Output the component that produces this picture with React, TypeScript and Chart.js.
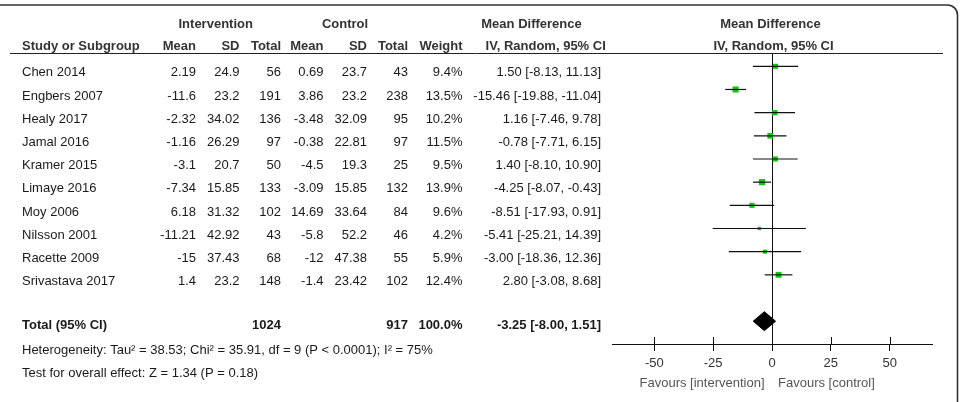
import { useEffect, useRef } from 'react';
import { Chart, registerables } from 'chart.js';

Chart.register(...registerables);

// Forest plot data: mean difference, IV random effects, 95% CI
const studies = [
  'Chen 2014', 'Engbers 2007', 'Healy 2017', 'Jamal 2016', 'Kramer 2015',
  'Limaye 2016', 'Moy 2006', 'Nilsson 2001', 'Racette 2009', 'Srivastava 2017',
];
const intMean = [2.19, -11.6, -2.32, -1.16, -3.1, -7.34, 6.18, -11.21, -15, 1.4];
const intSD = [24.9, 23.2, 34.02, 26.29, 20.7, 15.85, 31.32, 42.92, 37.43, 23.2];
const intN = [56, 191, 136, 97, 50, 133, 102, 43, 68, 148];
const ctlMean = [0.69, 3.86, -3.48, -0.38, -4.5, -3.09, 14.69, -5.8, -12, -1.4];
const ctlSD = [23.7, 23.2, 32.09, 22.81, 19.3, 15.85, 33.64, 52.2, 47.38, 23.42];
const ctlN = [43, 238, 95, 97, 25, 132, 84, 46, 55, 102];
const weights = [9.4, 13.5, 10.2, 11.5, 9.5, 13.9, 9.6, 4.2, 5.9, 12.4];
const md = [1.5, -15.46, 1.16, -0.78, 1.4, -4.25, -8.51, -5.41, -3.0, 2.8];
const ciLow = [-8.13, -19.88, -7.46, -7.71, -8.1, -8.07, -17.93, -25.21, -18.36, -3.08];
const ciHigh = [11.13, -11.04, 9.78, 6.15, 10.9, -0.43, 0.91, 14.39, 12.36, 8.68];

const totalIntN = 1024;
const totalCtlN = 917;
const totalWeight = 100.0;
const totalMd = -3.25;
const totalLow = -8.0;
const totalHigh = 1.51;

const heterogeneityText = 'Heterogeneity: Tau\u00b2 = 38.53; Chi\u00b2 = 35.91, df = 9 (P < 0.0001); I\u00b2 = 75%';
const overallEffectText = 'Test for overall effect: Z = 1.34 (P = 0.18)';

const xTicks = [-50, -25, 0, 25, 50];
const xMin = -68;
const xMax = 68;

const FONT = '"Liberation Sans", Arial, Helvetica, sans-serif';
const TOTAL_ROW = 11;

const f2 = (v: number) => v.toFixed(2);
const ciText = (m: number, l: number, h: number) => `${f2(m)} [${f2(l)}, ${f2(h)}]`;

export default function App() {
  const canvasRef = useRef<HTMLCanvasElement>(null);

  useEffect(() => {
    const canvas = canvasRef.current;
    if (!canvas) return;

    // Table columns and frame, drawn around the plot area using the chart's scales
    const tablePlugin = {
      id: 'forestTable',
      afterDraw(chart: any) {
        const ctx: CanvasRenderingContext2D = chart.ctx;
        const xs = chart.scales.x;
        const ys = chart.scales.y;
        const rowBase = (r: number) => ys.getPixelForValue(r) + 10.2;
        const normal = `13px ${FONT}`;
        const bold = `bold 13px ${FONT}`;

        ctx.save();
        ctx.textBaseline = 'alphabetic';

        // frame: top rule with rounded right corner
        ctx.strokeStyle = '#333';
        ctx.lineWidth = 1.6;
        ctx.beginPath();
        ctx.moveTo(0, 5);
        ctx.lineTo(947, 5);
        ctx.arcTo(957.5, 5, 957.5, 15, 10);
        ctx.lineTo(957.5, 402);
        ctx.stroke();

        // header underline
        ctx.strokeStyle = '#222';
        ctx.lineWidth = 1;
        ctx.beginPath();
        ctx.moveTo(10, 53.5);
        ctx.lineTo(943, 53.5);
        ctx.stroke();

        // headers
        ctx.fillStyle = '#333';
        ctx.font = bold;
        ctx.textAlign = 'center';
        ctx.fillText('Intervention', 215.7, 28);
        ctx.fillText('Control', 345, 28);
        ctx.fillText('Mean Difference', 531.5, 28);
        ctx.fillText('Mean Difference', 770.5, 28);
        ctx.fillText('IV, Random, 95% CI', 545.7, 49.5);
        ctx.fillText('IV, Random, 95% CI', 773.5, 49.5);
        ctx.textAlign = 'left';
        ctx.fillText('Study or Subgroup', 22, 49.5);
        ctx.textAlign = 'right';
        const headRight: [string, number][] = [
          ['Mean', 196], ['SD', 239.5], ['Total', 281], ['Mean', 323.5],
          ['SD', 367], ['Total', 408], ['Weight', 462.5],
        ];
        headRight.forEach(([t, x]) => ctx.fillText(t, x, 49.5));

        // study rows
        ctx.fillStyle = '#1a1a1a';
        ctx.font = normal;
        studies.forEach((name, i) => {
          const y = rowBase(i);
          ctx.textAlign = 'left';
          ctx.fillText(name, 22, y);
          ctx.textAlign = 'right';
          ctx.fillText(String(intMean[i]), 196, y);
          ctx.fillText(String(intSD[i]), 239.5, y);
          ctx.fillText(String(intN[i]), 281, y);
          ctx.fillText(String(ctlMean[i]), 323.5, y);
          ctx.fillText(String(ctlSD[i]), 367, y);
          ctx.fillText(String(ctlN[i]), 408, y);
          ctx.fillText(`${weights[i].toFixed(1)}%`, 462.5, y);
          ctx.fillText(ciText(md[i], ciLow[i], ciHigh[i]), 601, y);
        });

        // total row
        const ty = ys.getPixelForValue(TOTAL_ROW) + 7.4;
        ctx.font = bold;
        ctx.textAlign = 'left';
        ctx.fillText('Total (95% CI)', 22, ty);
        ctx.textAlign = 'right';
        ctx.fillText(String(totalIntN), 281, ty);
        ctx.fillText(String(totalCtlN), 408, ty);
        ctx.fillText(`${totalWeight.toFixed(1)}%`, 462.5, ty);
        ctx.fillText(ciText(totalMd, totalLow, totalHigh), 601, ty);

        ctx.font = normal;
        ctx.textAlign = 'left';
        ctx.fillText(heterogeneityText, 22, ty + 25);
        ctx.fillText(overallEffectText, 22, ty + 48);

        // upper halves of the axis tick marks
        const bottom = chart.chartArea.bottom;
        ctx.strokeStyle = '#111';
        ctx.lineWidth = 1;
        xTicks.forEach((v) => {
          const px = Math.round(xs.getPixelForValue(v)) + 0.5;
          ctx.beginPath();
          ctx.moveTo(px, bottom - 7);
          ctx.lineTo(px, bottom);
          ctx.stroke();
        });

        // favours labels either side of zero
        const zero = xs.getPixelForValue(0);
        ctx.fillStyle = '#555';
        ctx.font = normal;
        ctx.textAlign = 'right';
        ctx.fillText('Favours [intervention]', zero - 7.5, 386.5);
        ctx.textAlign = 'left';
        ctx.fillText('Favours [control]', zero + 6, 386.5);

        ctx.restore();
      },
    };

    const ciLines = studies.map((name, i) => ({
      label: name,
      data: [
        { x: ciLow[i], y: i },
        { x: ciHigh[i], y: i },
      ],
      showLine: true,
      borderColor: '#111',
      borderWidth: 1.2,
      pointRadius: 0,
      pointHoverRadius: 0,
      fill: false,
    }));

    const squares = {
      label: 'Mean difference',
      data: md.map((m, i) => ({ x: m, y: i })),
      showLine: false,
      pointStyle: 'rect',
      pointRadius: weights.map((w) => 1.18 * Math.sqrt(w)),
      backgroundColor: '#10c810',
      borderColor: '#10c810',
      borderWidth: 0,
    };

    const diamond = {
      label: 'Total (95% CI)',
      data: [
        { x: totalLow, y: TOTAL_ROW },
        { x: totalMd, y: TOTAL_ROW - 0.41 },
        { x: totalHigh, y: TOTAL_ROW },
        { x: totalMd, y: TOTAL_ROW + 0.41 },
        { x: totalLow, y: TOTAL_ROW },
      ],
      showLine: true,
      fill: 'shape',
      backgroundColor: '#000',
      borderColor: '#000',
      borderWidth: 1,
      pointRadius: 0,
      pointHoverRadius: 0,
    };

    const chart = new Chart(canvas, {
      type: 'scatter',
      data: { datasets: [...ciLines, squares, diamond] as any },
      options: {
        animation: false,
        responsive: false,
        events: [],
        layout: { padding: { left: 612, right: 29, top: 53, bottom: 0 } },
        plugins: {
          legend: { display: false },
          tooltip: { enabled: false },
        },
        scales: {
          x: {
            type: 'linear',
            position: 'bottom',
            min: xMin,
            max: xMax,
            afterBuildTicks: (s: any) => {
              s.ticks = xTicks.map((v) => ({ value: v }));
            },
            afterFit: (s: any) => {
              s.height = 58;
            },
            grid: {
              display: true,
              drawOnChartArea: true,
              drawTicks: true,
              tickLength: 7,
              lineWidth: 1,
              color: (c: any) => (c.tick && c.tick.value === 0 ? '#111' : 'rgba(0,0,0,0)'),
              tickColor: '#111',
            },
            border: { display: true, color: '#111', width: 1 },
            ticks: {
              autoSkip: false,
              maxRotation: 0,
              padding: 5,
              color: '#333',
              font: { family: FONT, size: 13 },
              callback: (v: any) => String(v),
            },
          },
          y: {
            type: 'linear',
            display: false,
            reverse: true,
            min: -0.574,
            max: 11.985,
          },
        },
      } as any,
      plugins: [tablePlugin],
    });

    return () => chart.destroy();
  }, []);

  return (
    <div style={{ position: 'fixed', left: 0, top: 0, width: 961, height: 402, background: '#fff' }}>
      <canvas ref={canvasRef} width={961} height={402} style={{ display: 'block' }} />
    </div>
  );
}
